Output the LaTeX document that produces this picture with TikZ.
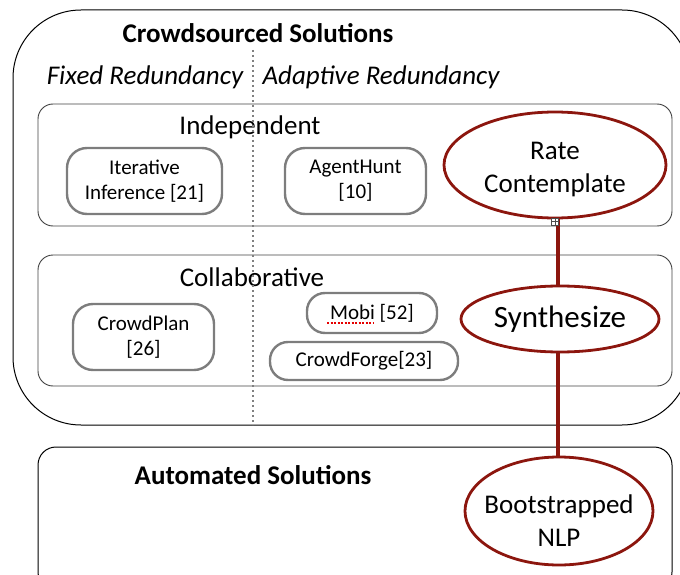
\documentclass[tikz,border=0pt]{standalone}
\usepackage{fontspec}
\setmainfont{Carlito}
\usetikzlibrary{shapes.geometric}
\definecolor{dred}{RGB}{140,22,14}
\definecolor{boxgray}{RGB}{125,125,125}
\begin{document}
\begin{tikzpicture}[x=1pt,y=-1pt,
  groupbox/.style={draw=black!75,line width=0.9pt,rounded corners=15pt},
  item/.style={draw=boxgray,line width=2.4pt,rounded corners=20pt,align=center,font=\fontsize{21}{25}\selectfont,inner sep=0pt},
  pill/.style={draw=boxgray,line width=2.4pt,rounded corners=18pt,align=center,font=\fontsize{21}{25}\selectfont,inner sep=0pt},
  oval/.style={draw=dred,line width=2.8pt,ellipse,align=center,font=\fontsize{27}{33}\selectfont,inner sep=0pt},
  lab/.style={font=\fontsize{27}{32}\selectfont},
  link/.style={draw=dred,line width=3.5pt}]
\useasboundingbox (0,0) rectangle (680,575);
% outer crowdsourced box
\draw[line width=1pt,rounded corners=68pt] (13,10) rectangle (690,425);
\node[lab,font=\bfseries\fontsize{27}{32}\selectfont] (cs) at (258,33) {Crowdsourced Solutions};
\node[lab,font=\itshape\fontsize{27}{32}\selectfont] (fr) at (145,77) {Fixed Redundancy};
\node[lab,font=\itshape\fontsize{27}{32}\selectfont] (ar) at (381,77) {Adaptive Redundancy};
% independent
\draw[groupbox] (38,104) rectangle (672,226);
\node[lab] (ind) at (250,127) {Independent};
% collaborative
\draw[groupbox] (38,255) rectangle (672,386);
\node[lab] (col) at (252,277) {Collaborative};
% dotted divider
\coordinate (dtop) at (253,50);
\coordinate (dbot) at (253,425);
\draw[black!50,line width=2pt,dash pattern=on 2pt off 3pt] (dtop) -- (dbot);
% items
\node[item,minimum width=155pt,minimum height=66pt] (it) at (144.5,181) {Iterative\\Inference [21]};
\node[item,minimum width=141pt,minimum height=66pt] (ah) at (355.5,181) {AgentHunt\\{}[10]};
\node[item,minimum width=141pt,minimum height=66pt] (cp) at (143.5,337) {CrowdPlan\\{}[26]};
\node[pill,minimum width=130pt,minimum height=40pt] (mo) at (372,313) {Mobi [52]};
\node[pill,minimum width=188pt,minimum height=38pt] (cf) at (364,361) {CrowdForge[23]};
\coordinate (ula) at (327,323);
\coordinate (ulb) at (373,323);
\draw[red!90!black,line width=1.2pt,dash pattern=on 2pt off 1.5pt] (ula) -- (ulb);
% automated
\draw[line width=1pt,rounded corners=18pt] (38,447) rectangle (672,590);
\node[lab,font=\bfseries\fontsize{27}{32}\selectfont] (au) at (253,475) {Automated Solutions};
% ovals
\node[oval,minimum width=222pt,minimum height=106pt] (rc) at (555,165) {};
\node[font=\fontsize{27}{33}\selectfont,align=center] (rct) at (555,170) {Rate\\Contemplate};
\node[oval,minimum width=198pt,minimum height=66pt,font=\fontsize{31}{36}\selectfont] (sy) at (560,319) {Synthesize};
\node[oval,minimum width=188pt,minimum height=108pt] (bn) at (559,511) {};
\node[font=\fontsize{27}{33}\selectfont,align=center] (bnt) at (559,521) {Bootstrapped\\NLP};
% links
\draw[link] ([xshift=3pt]rc.south) -- ([xshift=-2pt]sy.north);
\draw[link] ([xshift=-2pt]sy.south) -- ([xshift=-1pt]bn.north);
\node[draw=black!70,fill=white,line width=0.6pt,minimum size=7pt,inner sep=0pt] (mk) at ([xshift=0pt,yshift=-2pt]rc.south) {};
\draw[black!70,line width=0.5pt] (mk.north) -- (mk.south) (mk.west) -- (mk.east);
\end{tikzpicture}
\end{document}
